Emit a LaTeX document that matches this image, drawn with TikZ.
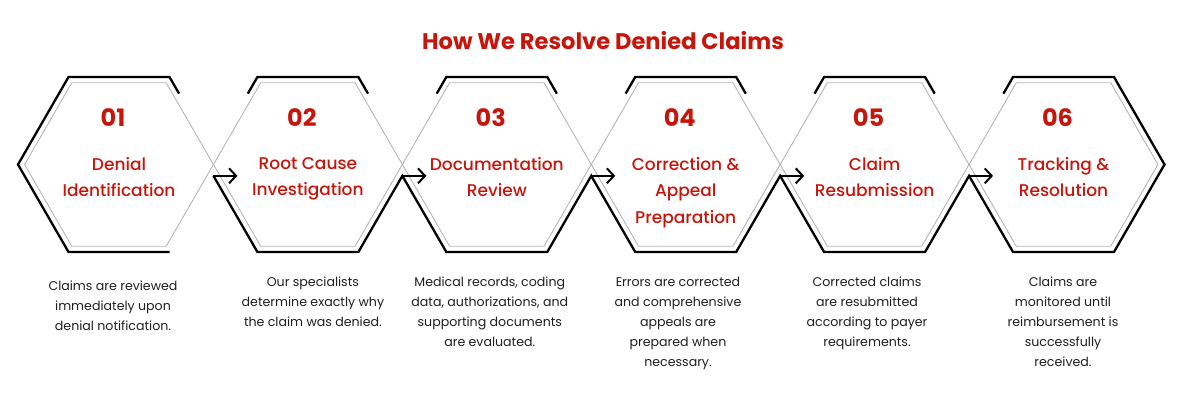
\documentclass[tikz,border=0pt]{standalone}
\usepackage{fontspec}
\setmainfont{Poppins}
\newfontfamily\medfont{Poppins Medium}
\usetikzlibrary{shapes.geometric,positioning,calc,arrows.meta}
\definecolor{claimred}{RGB}{198,22,12}
\definecolor{hexgray}{RGB}{185,180,180}
\definecolor{desctext}{RGB}{30,30,30}

\begin{document}
\begin{tikzpicture}[x=1pt,y=1pt]
\tikzstyle{hexagon}=[draw=hexgray, line width=0.9pt, shape=regular polygon, regular polygon sides=6, minimum size=188.8pt, inner sep=0pt, outer sep=0pt]
\tikzstyle{rim}=[line width=2.3pt, line join=miter]
\tikzstyle{flow}=[line width=2pt, -{Straight Barb[length=7pt,width=15pt]}]
\tikzstyle{number}=[text=claimred, font=\bfseries\fontsize{24}{24}\selectfont, inner sep=0pt]
\tikzstyle{steplabel}=[text=claimred, align=center, font=\medfont\fontsize{17}{26.5}\selectfont, inner sep=0pt, anchor=north]
\tikzstyle{desc}=[text=desctext, align=center, font=\fontsize{12.6}{20}\selectfont, inner sep=0pt, anchor=north]

\useasboundingbox (0,0) rectangle (1189,400);
\node[text=claimred, font=\bfseries\fontsize{22.6}{23}\selectfont] (title) at (603,359) {How We Resolve Denied Claims};

% hexagons, their outer corners and the crossing points
\foreach \i in {1,...,6}{
  \pgfmathsetmacro{\cx}{119+188.9*(\i-1)}
  \node[hexagon] (h\i) at (\cx,235.5) {};
  \foreach \a in {0,60,...,300}
    \coordinate (v\i-\a) at ($(h\i.center)+(\a:101)$);
  \coordinate (k\i) at ($(h\i.center)+(-94.45,-11.35)$);
  \coordinate (a\i) at ($(k\i)+(24,0)$);
}

% outer rims
\draw[rim] ($(v1-60)!0.19!(v1-0)$) -- (v1-60) -- (v1-120) -- (v1-180) -- (v1-240) -- (v1-300);
\foreach \i in {2,...,5}
  \draw[rim] ($(v\i-120)!0.19!(v\i-180)$) -- (v\i-120) -- (v\i-60) -- ($(v\i-60)!0.19!(v\i-0)$);
\draw[rim] (k2) \foreach \i [evaluate=\i as \j using int(\i+1)] in {2,...,5}{ -- (v\i-240) -- (v\i-300) -- (k\j) }
  -- (v6-240) -- (v6-300) -- (v6-0) -- (v6-60) -- (v6-120) -- ($(v6-120)!0.19!(v6-180)$);

% arrows
\foreach \i in {2,...,6}
  \draw[flow] (k\i) -- (a\i);

% numbers and step names
\foreach \i/\num/\lab in {1/01/{Denial\\Identification}, 2/02/{Root Cause\\Investigation}, 3/03/{Documentation\\Review}, 4/04/{Correction \&\\Appeal\\Preparation}, 5/05/{Claim\\Resubmission}, 6/06/{Tracking \&\\Resolution}}{
  \node[number] (n\i) at ($(h\i.center)+(-6,46.5)$) {\num};
  \node[steplabel] (l\i) at ($(h\i.center)+(0,7.5)$) {\lab};
}

% descriptions
\foreach \i/\dx/\dy/\txt in {1/-6/-116.5/{Claims are reviewed\\immediately upon\\denial notification.}, 2/5/-112.5/{Our specialists\\determine exactly why\\the claim was denied.}, 3/-7/-112.5/{Medical records, coding\\data, authorizations, and\\supporting documents\\are evaluated.}, 4/-7.7/-112.5/{Errors are corrected\\and comprehensive\\appeals are\\prepared when\\necessary.}, 5/-7.6/-112.5/{Corrected claims\\are resubmitted\\according to payer\\requirements.}, 6/-0.5/-112.5/{Claims are\\monitored until\\reimbursement is\\successfully\\received.}}
  \node[desc] (d\i) at ($(h\i.center)+(\dx,\dy)$) {\txt};

\end{tikzpicture}
\end{document}
